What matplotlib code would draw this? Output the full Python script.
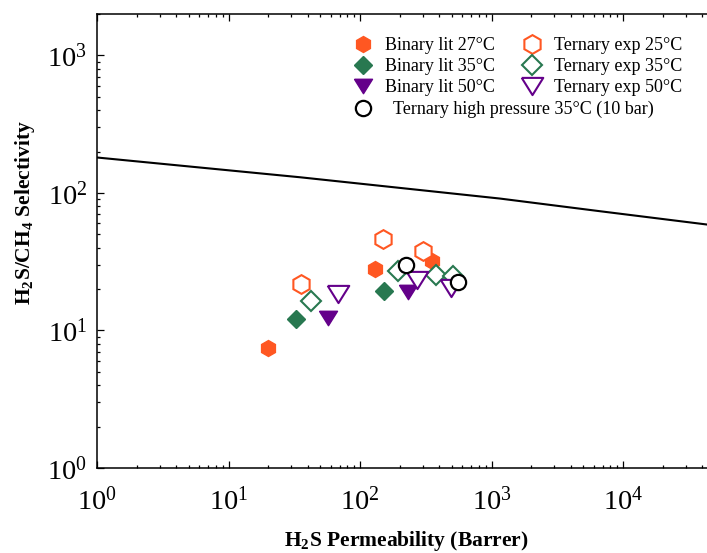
import numpy as np
import matplotlib
matplotlib.use("Agg")
import matplotlib.pyplot as plt
from matplotlib.lines import Line2D

plt.rcParams['font.family'] = ['Liberation Serif', 'DejaVu Serif']
plt.rcParams['mathtext.fontset'] = 'custom'
plt.rcParams['mathtext.rm'] = 'Liberation Serif'
plt.rcParams['mathtext.bf'] = 'Liberation Serif:bold'

# upper bound line
bound_x = [1, 35, 1160, 6700, 43600]
bound_y = [181, 130, 91, 73.6, 58.9]

# binary literature data (filled)
b27_x = [20, 130, 351]
b27_y = [7.5, 28.0, 31.8]
b35_x = [32.4, 152]
b35_y = [12.2, 19.5]
b50_x = [57.4, 233]
b50_y = [12.3, 19.2]

# ternary experimental data (open)
t25_x = [35.4, 150, 300]
t25_y = [21.9, 46.6, 37.6]
t35_x = [42.4, 196, 378, 513]
t35_y = [16.5, 26.9, 25.5, 24.7]
t50_x = [67.7, 270, 490]
t50_y = [18.5, 23.4, 20.4]

# ternary high pressure 35 C (10 bar)
thp_x = [223, 559]
thp_y = [30.1, 22.7]

orange = '#FF5722'
green = '#287850'
purple = '#64008A'
tri = [(-1, 0.8), (1, 0.8), (0, -0.8), (-1, 0.8)]

fig = plt.figure(figsize=(7.07, 5.53), dpi=100)
ax = fig.add_axes([97/707, 1-468/553, 618/707, 454/553])

ax.plot(bound_x, bound_y, color='black', lw=1.5, zorder=1)

ax.plot(b27_x, b27_y, 'h', ms=11.5, color=orange, mec=orange, ls='none', zorder=2)
ax.plot(b35_x, b35_y, 'D', ms=9.2, color=green, mec=green, ls='none', zorder=2)
ax.plot(b50_x, b50_y, marker=tri, ms=13, color=purple, mec=purple, ls='none', zorder=2)

ax.plot(t25_x, t25_y, 'h', ms=13.5, mfc='white', mec=orange, mew=1.5, ls='none', zorder=3)
ax.plot(t35_x, t35_y, 'D', ms=10.5, mfc='white', mec=green, mew=1.5, ls='none', zorder=3)
ax.plot(t50_x, t50_y, marker=tri, ms=15.5, mfc='white', mec=purple, mew=1.5, ls='none', zorder=3)
ax.plot(thp_x, thp_y, 'o', ms=11, mfc='white', mec='black', mew=1.6, ls='none', zorder=4)

ax.set_xscale('log')
ax.set_yscale('log')
ax.set_xlim(1, 5e4)
ax.set_ylim(1, 2000)

for s in ax.spines.values():
    s.set_linewidth(1.1)
ax.tick_params(which='both', direction='in', top=True, right=True, width=0.9)
ax.tick_params(which='major', length=5, labelsize=20.5)
ax.tick_params(axis='x', which='major', pad=14)
ax.tick_params(axis='y', which='major', pad=7)
ax.tick_params(which='minor', length=2.5)

fig.text(406/707, 1-541/553, r'H$_\mathbf{2}$S Permeability (Barrer)',
         ha='center', va='center', fontsize=15.5, fontweight='bold')
fig.text(25/707, 1-212/553, r'H$_\mathbf{2}$S/CH$_\mathbf{4}$ Selectivity',
         ha='center', va='center', rotation=90, fontsize=15.5, fontweight='bold')

h_b27 = Line2D([], [], marker='h', ms=11.5, color=orange, ls='none')
h_b35 = Line2D([], [], marker='D', ms=9.2, color=green, ls='none')
h_b50 = Line2D([], [], marker=tri, ms=13, color=purple, ls='none')
h_t25 = Line2D([], [], marker='h', ms=13.5, mfc='white', mec=orange, mew=1.5, ls='none')
h_t35 = Line2D([], [], marker='D', ms=10.5, mfc='white', mec=green, mew=1.5, ls='none')
h_t50 = Line2D([], [], marker=tri, ms=15.5, mfc='white', mec=purple, mew=1.5, ls='none')
h_thp = Line2D([], [], marker='o', ms=11, mfc='white', mec='black', mew=1.6, ls='none')

leg1 = ax.legend([h_b27, h_b35, h_b50, h_t25, h_t35, h_t50],
                 ['Binary lit 27°C', 'Binary lit 35°C', 'Binary lit 50°C',
                  'Ternary exp 25°C', 'Ternary exp 35°C', 'Ternary exp 50°C'],
                 ncol=2, frameon=False, fontsize=13, handlelength=1.0,
                 handletextpad=0.74, columnspacing=1.54, labelspacing=0.22,
                 borderpad=0, borderaxespad=0, loc='upper left',
                 bbox_to_anchor=(353.7/707, 1-37/553), bbox_transform=fig.transFigure)
ax.add_artist(leg1)
ax.legend([h_thp], ['Ternary high pressure 35°C (10 bar)'], frameon=False, fontsize=13,
          handlelength=1.0, handletextpad=1.18, borderpad=0, borderaxespad=0,
          loc='upper left', bbox_to_anchor=(353.7/707, 1-101/553),
          bbox_transform=fig.transFigure)

fig.savefig('out.png', dpi=100)
